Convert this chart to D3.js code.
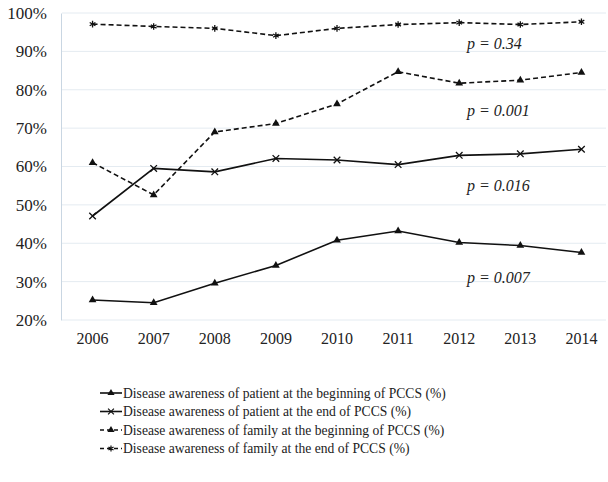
<html lang="en">
<head>
<meta charset="utf-8">
<title>Disease awareness</title>
<script src="https://d3js.org/d3.v7.min.js"></script>
<style>
  body { margin: 0; background: #fff; }
  svg text { font-family: "Liberation Serif", "Times New Roman", "DejaVu Serif", serif; fill: #222; }
</style>
</head>
<body>
<div id="my_dataviz"></div>
<script>
// categories
var years = ["2006", "2007", "2008", "2009", "2010", "2011", "2012", "2013", "2014"];

// series values (%)
var patientBegin = [25.2, 24.5, 29.6, 34.2, 40.8, 43.2, 40.2, 39.4, 37.6];
var patientEnd   = [47.1, 59.5, 58.6, 62.1, 61.7, 60.5, 62.9, 63.3, 64.5];
var familyBegin  = [61.0, 52.6, 69.0, 71.2, 76.3, 84.7, 81.7, 82.5, 84.5];
var familyEnd    = [97.1, 96.5, 96.0, 94.1, 96.0, 97.0, 97.5, 97.0, 97.7];

var seriesNames = [
  "Disease awareness of patient at the beginning of PCCS (%)",
  "Disease awareness of patient at the end of PCCS (%)",
  "Disease awareness of family at the beginning of PCCS (%)",
  "Disease awareness of family at the end of PCCS (%)"
];

// y tick labels
var yTicks = [20, 30, 40, 50, 60, 70, 80, 90, 100];

// p-value annotations
var pLabels = ["p = 0.34", "p = 0.001", "p = 0.016", "p = 0.007"];
var pValuesAt = [92, 74.5, 55, 31];

var series = [
  {name: seriesNames[0], values: patientBegin, dash: null,  symbol: d3.symbolTriangle, fill: true},
  {name: seriesNames[1], values: patientEnd,   dash: null,  symbol: d3.symbolTimes,    fill: false},
  {name: seriesNames[2], values: familyBegin,  dash: "5,3", symbol: d3.symbolTriangle, fill: true},
  {name: seriesNames[3], values: familyEnd,    dash: "5,3", symbol: d3.symbolAsterisk, fill: false}
];

var W = 608, H = 482;
var svg = d3.select("#my_dataviz")
  .append("svg")
    .attr("width", W)
    .attr("height", H);

var x = d3.scaleBand()
  .domain(years)
  .range([62, 612]);

var y = d3.scaleLinear()
  .domain([20, 100])
  .range([320, 13]);

// gridlines
svg.append("g")
  .selectAll("line")
  .data(yTicks)
  .enter().append("line")
    .attr("x1", 62)
    .attr("x2", 606)
    .attr("y1", function(d) { return y(d); })
    .attr("y2", function(d) { return y(d); })
    .attr("stroke", "#e4ebf1")
    .attr("stroke-width", 1);

// y axis
var yAxis = svg.append("g")
  .attr("transform", "translate(61,0)")
  .call(d3.axisLeft(y).tickValues(yTicks).tickSize(0).tickPadding(14)
        .tickFormat(function(d) { return d + "%"; }));
yAxis.attr("font-family", null);
yAxis.select(".domain").attr("stroke", "#c9d6e2");
yAxis.selectAll("text")
  .style("font-size", "17px")
  .attr("fill", "#222");

// x axis
var xAxis = svg.append("g")
  .attr("transform", "translate(0,320)")
  .call(d3.axisBottom(x).tickSize(0).tickPadding(13));
xAxis.attr("font-family", null);
xAxis.select(".domain").remove();
xAxis.selectAll("text")
  .style("font-size", "16px")
  .attr("fill", "#222");

var line = d3.line()
  .x(function(d, i) { return x(years[i]) + x.bandwidth() / 2; })
  .y(function(d) { return y(d); });

series.forEach(function(s) {
  svg.append("path")
    .datum(s.values)
    .attr("fill", "none")
    .attr("stroke", "#111")
    .attr("stroke-width", 1.6)
    .attr("stroke-dasharray", s.dash)
    .attr("d", line);

  svg.append("g")
    .selectAll("path")
    .data(s.values)
    .enter().append("path")
      .attr("transform", function(d, i) {
        return "translate(" + (x(years[i]) + x.bandwidth() / 2) + "," + y(d) + ")";
      })
      .attr("d", d3.symbol().type(s.symbol).size(s.fill ? 26 : 30))
      .attr("fill", s.fill ? "#111" : "none")
      .attr("stroke", "#111")
      .attr("stroke-width", s.fill ? 0 : 1.3);
});

// p-value labels
svg.append("g")
  .selectAll("text")
  .data(pLabels)
  .enter().append("text")
    .attr("x", 467)
    .attr("y", function(d, i) { return y(pValuesAt[i]) + 5; })
    .style("font-size", "16px")
    .style("font-style", "italic")
    .text(function(d) { return d; });

// legend
var legend = svg.append("g")
  .attr("transform", "translate(100,393)");

var item = legend.selectAll("g")
  .data(series)
  .enter().append("g")
    .attr("transform", function(d, i) { return "translate(0," + (i * 18.5) + ")"; });

item.append("line")
  .attr("x1", 0)
  .attr("x2", 22)
  .attr("stroke", "#111")
  .attr("stroke-width", 1.6)
  .attr("stroke-dasharray", function(d) { return d.dash ? "4,3" : null; });

item.append("path")
  .attr("transform", "translate(11,0)")
  .attr("d", function(d) { return d3.symbol().type(d.symbol).size(d.fill ? 22 : 24)(); })
  .attr("fill", function(d) { return d.fill ? "#111" : "none"; })
  .attr("stroke", "#111")
  .attr("stroke-width", function(d) { return d.fill ? 0 : 1.2; });

item.append("text")
  .attr("x", 23)
  .attr("dy", "0.35em")
  .style("font-size", "13.6px")
  .text(function(d) { return d.name; });
</script>
</body>
</html>
